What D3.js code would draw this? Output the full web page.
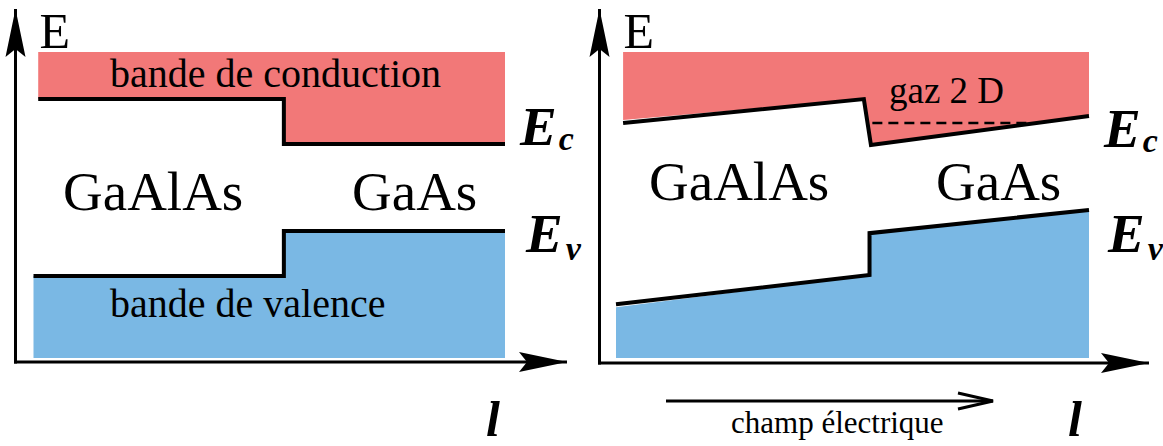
<!DOCTYPE html>
<html>
<head>
<meta charset="utf-8">
<script src="https://cdn.jsdelivr.net/npm/d3@7"></script>
<style>
  body { margin: 0; background: #fff; }
  svg text { font-family: "Liberation Serif", "Times New Roman", serif; fill: #000; }
</style>
</head>
<body>
<div id="chart"></div>
<script>
// Band edges, position along l (0-100) vs energy (0-100)
const leftEc = [[1, 84.6], [53.1, 84.6], [53.1, 69.9], [100, 69.9]];
const leftEv = [[0, 26.8], [53.1, 26.8], [53.1, 41.5], [100, 41.5]];
const rightEc = [[1.5, 76.8], [52.4, 84.6], [53.9, 69.6], [100, 79.1]];
const rightEv = [[0, 17.6], [53.6, 27.1], [53.6, 40.8], [100, 48.4]];
const gasLevel = [[54.2, 76.8], [86.8, 76.8]];
const materials = ["GaAlAs", "GaAs"];
const bandNames = ["bande de conduction", "bande de valence"];

const W = 1163, H = 446;
const svg = d3.select("#chart").append("svg")
    .attr("width", W).attr("height", H);

const red = "#f27878";
const blue = "#7ab8e4";

// arrowheads
const defs = svg.append("defs");
defs.append("marker")
    .attr("id", "axisHead")
    .attr("viewBox", "-50 -12 52 24")
    .attr("refX", 0).attr("refY", 0)
    .attr("markerWidth", 52).attr("markerHeight", 24)
    .attr("markerUnits", "userSpaceOnUse")
    .attr("orient", "auto")
    .append("path")
    .attr("d", "M0,0 L-48,-10 L-40,0 L-48,10 Z")
    .attr("fill", "#000");

defs.append("marker")
    .attr("id", "openHead")
    .attr("viewBox", "-40 -12 42 24")
    .attr("refX", 0).attr("refY", 0)
    .attr("markerWidth", 42).attr("markerHeight", 24)
    .attr("markerUnits", "userSpaceOnUse")
    .attr("orient", "auto")
    .append("path")
    .attr("d", "M-35,-8 L0,0 L-35,8")
    .attr("fill", "none")
    .attr("stroke", "#000")
    .attr("stroke-width", 3);

const y = d3.scaleLinear().domain([0, 100]).range([358, 52]);

function panel(cfg) {
    const x = d3.scaleLinear().domain([0, 100]).range(cfg.xRange);
    const g = svg.append("g");

    const upper = d3.area().x(d => x(d[0])).y0(y(100)).y1(d => y(d[1]));
    const lower = d3.area().x(d => x(d[0])).y0(y(0)).y1(d => y(d[1]));
    const line = d3.line().x(d => x(d[0])).y(d => y(d[1]));

    // fills: extend the band edge to the panel border
    const ecFill = [[cfg.ecStart, cfg.ec[0][1] + (cfg.ecFillOff || 0)], ...cfg.ec.slice(1)];
    const evFill = [[0, cfg.ev[0][1] - (cfg.evFillOff || 0)], ...cfg.ev.slice(1)];
    g.append("path").attr("d", upper(ecFill)).attr("fill", red);
    g.append("path").attr("d", lower(evFill)).attr("fill", blue);

    g.append("path").attr("d", line(cfg.ec))
        .attr("fill", "none").attr("stroke", "#000").attr("stroke-width", 4);
    g.append("path").attr("d", line(cfg.ev))
        .attr("fill", "none").attr("stroke", "#000").attr("stroke-width", 4);

    if (cfg.gas) {
        g.append("path").attr("d", line(cfg.gas))
            .attr("fill", "none").attr("stroke", "#000")
            .attr("stroke-width", 2.5).attr("stroke-dasharray", "10,6");
    }

    // axes
    g.append("path")
        .attr("d", `M${cfg.axisX},${cfg.axisY + 1.5} L${cfg.axisX},9`)
        .attr("stroke", "#000").attr("stroke-width", 3)
        .attr("marker-end", "url(#axisHead)");
    g.append("path")
        .attr("d", `M${cfg.axisX - 1.5},${cfg.axisY} L${cfg.axisEnd},${cfg.axisY}`)
        .attr("stroke", "#000").attr("stroke-width", 3)
        .attr("marker-end", "url(#axisHead)");

    g.append("text").attr("x", cfg.axisX + 24).attr("y", 48)
        .attr("font-size", 50).text("E");

    // material labels
    g.append("text").attr("x", cfg.matX[0]).attr("y", cfg.matY)
        .attr("font-size", 55).text(materials[0]);
    g.append("text").attr("x", cfg.matX[1]).attr("y", cfg.matY)
        .attr("font-size", 55).text(materials[1]);

    // Ec, Ev labels
    const ecT = g.append("text").attr("x", cfg.ecLabel[0]).attr("y", cfg.ecLabel[1])
        .attr("font-size", 55).attr("font-weight", "bold").attr("font-style", "italic");
    ecT.append("tspan").text("E");
    ecT.append("tspan").attr("font-size", 34).attr("dy", 5).attr("dx", 2).text("c");
    const evT = g.append("text").attr("x", cfg.evLabel[0]).attr("y", cfg.evLabel[1])
        .attr("font-size", 55).attr("font-weight", "bold").attr("font-style", "italic");
    evT.append("tspan").text("E");
    evT.append("tspan").attr("font-size", 34).attr("dy", 8).attr("dx", 3).text("v");

    g.append("text").attr("x", cfg.lX).attr("y", 436)
        .attr("font-size", 50).attr("font-weight", "bold").attr("font-style", "italic")
        .text("l");
    return { g, x };
}

// left panel: flat bands
const left = panel({
    xRange: [33.5, 505], ec: leftEc, ev: leftEv, ecStart: 1,
    axisX: 15.5, axisY: 362, axisEnd: 567,
    matX: [63, 352], matY: 210,
    ecLabel: [520, 145], evLabel: [526, 252], lX: 486
});
left.g.append("text").attr("x", 110).attr("y", 87)
    .attr("font-size", 40).text(bandNames[0]);
left.g.append("text").attr("x", 110).attr("y", 317)
    .attr("font-size", 40).text(bandNames[1]);

// right panel: with electric field
const right = panel({
    xRange: [616, 1089], ec: rightEc, ev: rightEv, ecStart: 1.5, ecFillOff: 1,
    evFillOff: 1,
    gas: gasLevel,
    axisX: 599.5, axisY: 363, axisEnd: 1149,
    matX: [649, 936], matY: 200,
    ecLabel: [1104, 147], evLabel: [1108, 252], lX: 1068
});
right.g.append("text").attr("x", 889).attr("y", 103)
    .attr("font-size", 37).text("gaz 2 D");

right.g.append("path")
    .attr("d", "M666,401 L993,401")
    .attr("stroke", "#000").attr("stroke-width", 3)
    .attr("marker-end", "url(#openHead)");
right.g.append("text").attr("x", 731).attr("y", 433)
    .attr("font-size", 31).text("champ électrique");
</script>
</body>
</html>
